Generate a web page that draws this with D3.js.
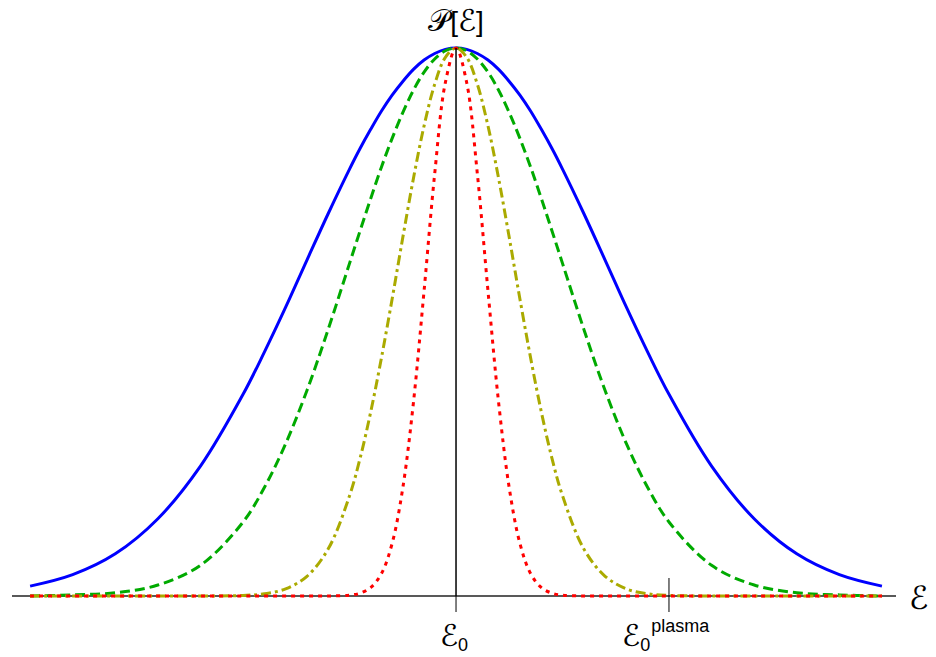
<!DOCTYPE html>
<html><head><meta charset="utf-8">
<script src="https://cdn.jsdelivr.net/npm/d3@7"></script>
<style>body{margin:0;background:#fff}svg{display:block}</style>
</head><body>
<script>
// shared energy grid (units: E - E0, where E0plasma - E0 = 1)
const energies = [-2.0,-1.8,-1.6,-1.4,-1.2,-1.0,-0.9,-0.8,-0.7,-0.6,-0.5,-0.45,-0.4,-0.35,-0.3,-0.25,-0.2,-0.15,-0.1,-0.05,0,
  0.05,0.1,0.15,0.2,0.25,0.3,0.35,0.4,0.45,0.5,0.6,0.7,0.8,0.9,1.0,1.2,1.4,1.6,1.8,2.0];
const blueValues = [0.018,0.039,0.077,0.141,0.237,0.368,0.445,0.527,0.613,0.698,0.779,0.817,0.852,0.885,0.914,0.939,0.961,0.978,0.990,0.9975,1,
  0.9975,0.990,0.978,0.961,0.939,0.914,0.885,0.852,0.817,0.779,0.698,0.613,0.527,0.445,0.368,0.237,0.141,0.077,0.039,0.018];
const greenValues = [0.000,0.002,0.006,0.020,0.056,0.135,0.198,0.278,0.375,0.487,0.607,0.667,0.726,0.783,0.835,0.882,0.923,0.956,0.980,0.995,1,
  0.995,0.980,0.956,0.923,0.882,0.835,0.783,0.726,0.667,0.607,0.487,0.375,0.278,0.198,0.135,0.056,0.020,0.006,0.002,0.000];
const yellowValues = [0,0,0,0,0,0.001,0.004,0.013,0.036,0.086,0.183,0.252,0.337,0.435,0.542,0.654,0.762,0.858,0.934,0.983,1,
  0.983,0.934,0.858,0.762,0.654,0.542,0.435,0.337,0.252,0.183,0.086,0.036,0.013,0.004,0.001,0,0,0,0,0];
const redValues = [0,0,0,0,0,0,0,0,0,0,0.0015,0.0052,0.0156,0.041,0.096,0.197,0.353,0.557,0.771,0.937,1,
  0.937,0.771,0.557,0.353,0.197,0.096,0.041,0.0156,0.0052,0.0015,0,0,0,0,0,0,0,0,0,0];
const seriesNames = ["blue","green","yellow","red"];
const seriesColors = ["#0000ff","#00aa00","#aaaa00","#ff0000"];
const seriesDash = [null,"10,5","10,4,3,4","4,5"];
const xDomain = [-2.085, 2.066];
const tickValues = [0, 1];
const yLabel = "𝒫[ℰ]";
const xLabel = "ℰ";

const W = 936, H = 657;
const svg = d3.select("body").append("svg").attr("width", W).attr("height", H);
const x = d3.scaleLinear().domain(xDomain).range([12, 896]);
const y = d3.scaleLinear().domain([0, 1]).range([596, 48]);

// horizontal axis
svg.append("line").attr("x1", x(xDomain[0])).attr("x2", x(xDomain[1]))
  .attr("y1", y(0)).attr("y2", y(0)).attr("stroke", "#222").attr("stroke-width", 1.6);

const series = [blueValues, greenValues, yellowValues, redValues];
const line = d3.line().x((d, i) => x(energies[i])).y(d => y(d)).curve(d3.curveCatmullRom.alpha(0.5));
series.forEach((vals, k) => {
  svg.append("path").datum(vals).attr("d", line)
    .attr("fill", "none").attr("stroke", seriesColors[k]).attr("stroke-width", 3)
    .attr("stroke-dasharray", seriesDash[k]).attr("class", seriesNames[k]);
});

// vertical axis at E0
svg.append("line").attr("x1", x(0)).attr("x2", x(0)).attr("y1", y(1)).attr("y2", y(0))
  .attr("stroke", "#000").attr("stroke-width", 1.5);
// ticks
tickValues.forEach(t => {
  svg.append("line").attr("x1", x(t)).attr("x2", x(t))
    .attr("y1", t === 0 ? y(0) : y(0) - 18).attr("y2", y(0) + 16)
    .attr("stroke", "#000").attr("stroke-width", 1);
});

const mathFont = "'DejaVu Sans', 'Noto Sans', sans-serif";
const sansFont = "'Liberation Sans', Arial, sans-serif";
// tick labels
const t0 = svg.append("text").attr("x", x(0) - 2).attr("y", 646).attr("text-anchor", "middle")
  .attr("font-family", mathFont).attr("font-size", 30);
t0.append("tspan").text("ℰ");
t0.append("tspan").attr("font-family", sansFont).attr("font-size", 18).attr("dy", 5).text("0");

const t1 = svg.append("text").attr("x", x(1) - 47).attr("y", 646).attr("text-anchor", "start")
  .attr("font-family", mathFont).attr("font-size", 30);
t1.append("tspan").text("ℰ");
t1.append("tspan").attr("font-family", sansFont).attr("font-size", 18).attr("dy", 5).text("0");
t1.append("tspan").attr("font-family", sansFont).attr("font-size", 18).attr("dx", 1).attr("dy", -19).text("plasma");

// axis labels
const yl = svg.append("text").attr("x", x(0)).attr("y", 31).attr("text-anchor", "middle")
  .attr("font-family", mathFont).attr("font-size", 30);
yl.append("tspan").text("𝒫");
yl.append("tspan").attr("font-family", sansFont).attr("font-size", 28).text("[");
yl.append("tspan").text("ℰ");
yl.append("tspan").attr("font-family", sansFont).attr("font-size", 28).text("]");
svg.append("text").attr("x", 909).attr("y", 609)
  .attr("font-family", mathFont).attr("font-size", 32).text(xLabel);
</script>
</body></html>
